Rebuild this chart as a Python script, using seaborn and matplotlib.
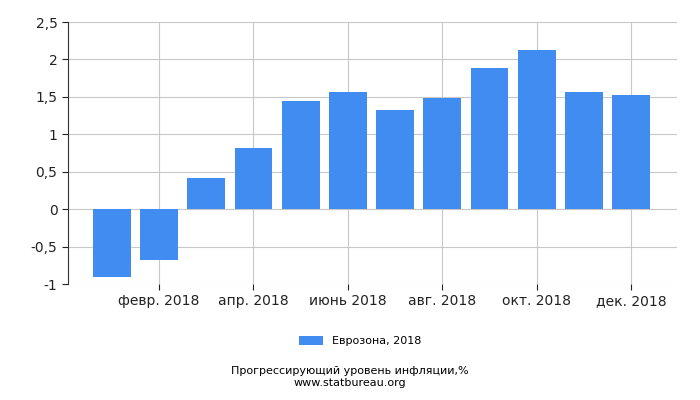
import numpy as np
import pandas as pd
import seaborn as sns
import matplotlib.pyplot as plt

months = ["янв. 2018", "февр. 2018", "март 2018", "апр. 2018", "май 2018", "июнь 2018",
          "июль 2018", "авг. 2018", "сент. 2018", "окт. 2018", "нояб. 2018", "дек. 2018"]
values = [-0.90, -0.68, 0.42, 0.82, 1.45, 1.57, 1.33, 1.49, 1.89, 2.13, 1.57, 1.53]
yticks = [-1, -0.5, 0, 0.5, 1, 1.5, 2, 2.5]

df = pd.DataFrame({"month": months, "value": values})

fig = plt.figure(figsize=(7, 4), dpi=100)
ax = fig.add_axes([0.097, 0.29, 0.87, 0.655])
sns.barplot(data=df, x="month", y="value", color="#418cf0", saturation=1, width=0.8,
            ax=ax, label="Еврозона, 2018", zorder=2)
ax.set_xlim(-0.93, 11.97)
ax.set_ylim(-1, 2.5)
ax.set_yticks(yticks)
ax.set_yticklabels([f"{t:g}".replace(".", ",").replace("-", "-") for t in yticks])
ax.set_xticks(range(1, 12, 2))
ax.set_xticklabels(months[1::2])
ax.set_xlabel("")
ax.set_ylabel("")
ax.grid(True, color="#c8c8c8", linewidth=0.8, zorder=0)
ax.set_axisbelow(True)
for s in ["top", "right"]:
    ax.spines[s].set_visible(False)
ax.spines["left"].set_color("#333333")
ax.spines["bottom"].set_visible(False)
ax.tick_params(labelsize=10, colors="#222222", length=4)
ax.legend(loc="upper center", bbox_to_anchor=(0.48, -0.16), frameon=False, fontsize=8,
          handlelength=2.2, handleheight=0.9)
fig.text(0.5, 0.065, "Прогрессирующий уровень инфляции,%", ha="center", fontsize=8)
fig.text(0.5, 0.035, "www.statbureau.org", ha="center", fontsize=8)
fig.savefig("out.png", dpi=100)
